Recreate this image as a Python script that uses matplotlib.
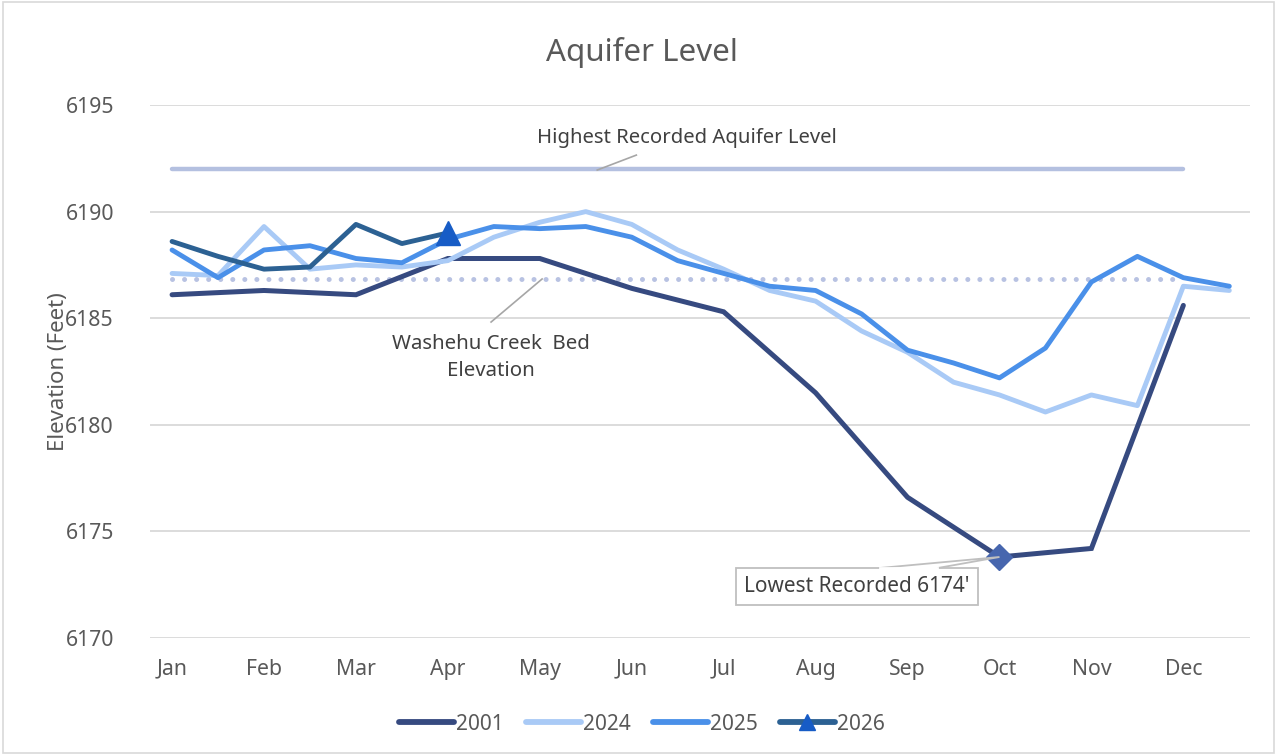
import matplotlib.pyplot as plt
import numpy as np
from matplotlib.lines import Line2D
from matplotlib.patches import Polygon, Rectangle

plt.rcParams['font.family'] = ['Noto Sans', 'DejaVu Sans']

# half-month steps, Jan = 0 ... Dec = 22, late Dec = 23
months = ['Jan', 'Feb', 'Mar', 'Apr', 'May', 'Jun',
          'Jul', 'Aug', 'Sep', 'Oct', 'Nov', 'Dec']
half_steps = np.arange(24)
month_steps = np.arange(0, 24, 2)

y2001 = [6186.1, 6186.3, 6186.1, 6187.8, 6187.8, 6186.4,
         6185.3, 6181.5, 6176.6, 6173.8, 6174.2, 6185.6]
y2024 = [6187.1, 6187.0, 6189.3, 6187.3, 6187.5, 6187.4, 6187.7, 6188.8,
         6189.5, 6190.0, 6189.4, 6188.2, 6187.3, 6186.3, 6185.8, 6184.4,
         6183.4, 6182.0, 6181.4, 6180.6, 6181.4, 6180.9, 6186.5, 6186.3]
y2025 = [6188.2, 6186.9, 6188.2, 6188.4, 6187.8, 6187.6, 6188.7, 6189.3,
         6189.2, 6189.3, 6188.8, 6187.7, 6187.1, 6186.5, 6186.3, 6185.2,
         6183.5, 6182.9, 6182.2, 6183.6, 6186.7, 6187.9, 6186.9, 6186.5]
y2026 = [6188.6, 6187.9, 6187.3, 6187.4, 6189.4, 6188.5, 6189.0]

highest_level = 6192.0
creek_bed = 6186.85
lowest_idx = 9  # Oct in 2001

c2001 = '#364A80'
c2024 = '#A9CAF6'
c2025 = '#4A90E9'
c2026 = '#2C6193'
grey = '#595959'

fig = plt.figure(figsize=(12.77, 7.55), dpi=100)
ax = fig.add_axes([150 / 1277, 1 - 638 / 755, 1100 / 1277, 533 / 755])

ax.plot(month_steps[[0, -1]], [highest_level] * 2, color='#B4C0E0', lw=3.2,
        solid_capstyle='round', zorder=2)
ax.plot(month_steps[[0, -1]], [creek_bed] * 2, color='#B8C2E2', lw=3.6,
        linestyle=(0, (0.01, 2.4)), dash_capstyle='round', zorder=2)

ax.plot(month_steps, y2001, color=c2001, lw=3.6, solid_capstyle='round',
        solid_joinstyle='miter', zorder=3)
ax.plot(half_steps, y2024, color=c2024, lw=3.5, solid_capstyle='round', zorder=3)
ax.plot(half_steps, y2025, color=c2025, lw=3.5, solid_capstyle='round', zorder=4)
ax.plot(half_steps[:len(y2026)], y2026, color=c2026, lw=3.5,
        solid_capstyle='round', zorder=5)
ax.plot(half_steps[len(y2026) - 1], y2026[-1], marker='^', ms=17,
        color='#175CC6', zorder=6)
ax.plot(month_steps[lowest_idx], y2001[lowest_idx], marker='D', ms=13,
        color='#4766AE', zorder=6)

ax.set_xlim(-0.48, 23.45)
ax.set_ylim(6170, 6195)
ax.set_yticks(np.arange(6170, 6196, 5))
ax.set_xticks(month_steps)
ax.set_xticklabels(months)
ax.tick_params(length=0, labelsize=15.3, labelcolor=grey, pad=15)
ax.tick_params(axis='y', pad=26)
ax.grid(axis='y', color='#D9D9D9', lw=1.3)
ax.set_axisbelow(True)
for s in ax.spines.values():
    s.set_visible(False)
ax.set_ylabel('Elevation (Feet)', fontsize=16, color=grey, labelpad=-3)

fig.text(642 / 1277, 1 - 52 / 755, 'Aquifer Level', ha='center', va='center',
         fontsize=22.5, color=grey)

# annotations
ax.text(11.2, 6193.45, 'Highest Recorded Aquifer Level', ha='center', va='center',
        fontsize=14.6, color='#404040')
ax.plot([9.25, 10.1], [6191.95, 6192.65], color='#A6A6A6', lw=1.2, zorder=3)

ax.text(6.94, 6183.15, 'Washehu Creek  Bed\nElevation', ha='center', va='center',
        fontsize=14.7, color='#404040', linespacing=1.45)
ax.plot([6.94, 8.05], [6184.82, 6186.84], color='#A6A6A6', lw=1.2, zorder=3)

bx0, bx1, by0, by1 = 12.26, 17.54, 6171.55, 6173.28
ax.add_patch(Rectangle((bx0, by0), bx1 - bx0, by1 - by0, facecolor='white',
                       edgecolor='#BFBFBF', lw=1.3, zorder=6))
tip = (month_steps[lowest_idx], y2001[lowest_idx])
ax.add_patch(Polygon([(15.38, by1), tip, (16.65, by1)], closed=False,
                     facecolor='white', edgecolor='#BFBFBF', lw=1.3, zorder=7))
ax.plot([15.40, 16.63], [by1, by1], color='white', lw=2, zorder=8)
ax.text((bx0 + bx1) / 2, (by0 + by1) / 2, "Lowest Recorded 6174'", ha='center',
        va='center', fontsize=15, color='#404040', zorder=9)

handles = [Line2D([], [], color=c2001, lw=4.2, solid_capstyle='round'),
           Line2D([], [], color=c2024, lw=4.2, solid_capstyle='round'),
           Line2D([], [], color=c2025, lw=4.2, solid_capstyle='round'),
           Line2D([], [], color=c2026, lw=4.2, solid_capstyle='round',
                  marker='^', ms=12, markerfacecolor='#175CC6',
                  markeredgecolor='#175CC6')]
leg = fig.legend(handles, ['2001', '2024', '2025', '2026'], loc='center',
                 bbox_to_anchor=(642 / 1277, 1 - 724 / 755), ncol=4,
                 frameon=False, fontsize=15, handlelength=2.65,
                 handletextpad=0.1, columnspacing=1.05)
for t in leg.get_texts():
    t.set_color(grey)

fig.patches.append(Rectangle((0.002, 0.002), 0.996, 0.996, transform=fig.transFigure,
                             fill=False, edgecolor='#D9D9D9', lw=1.2))

fig.savefig('out.png', dpi=100)
